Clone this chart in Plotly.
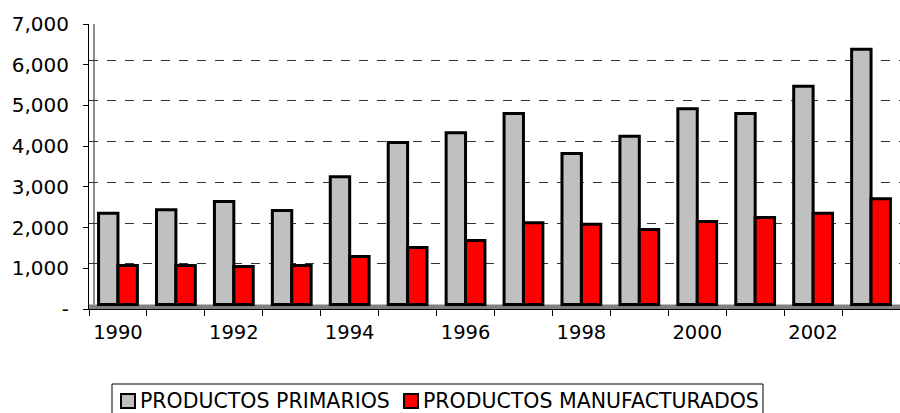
import plotly.graph_objects as go

years = list(range(1990, 2004))
primarios = [2240, 2330, 2530, 2310, 3140, 3980, 4220, 4690, 3710, 4130, 4810, 4690, 5360, 6270]
manufacturados = [960, 960, 935, 960, 1180, 1400, 1570, 2010, 1970, 1840, 2040, 2140, 2240, 2600]
y_tickvals = [0, 1000, 2000, 3000, 4000, 5000, 6000, 7000]
y_ticktext = ["-", "1,000", "2,000", "3,000", "4,000", "5,000", "6,000", "7,000"]
x_tickvals = [1990, 1992, 1994, 1996, 1998, 2000, 2002]
series_names = ["PRODUCTOS PRIMARIOS", "PRODUCTOS MANUFACTURADOS"]
series_colors = ["#c0c0c0", "#ff0000"]

FONT = "DejaVu Sans"
DEPTH = 110  # 3D back-wall offset in data units

# plot area geometry (pixels)
W, H = 900, 413
L, R, T, B = 89, 0, 24, 104
PW, PH = W - L - R, H - T - B


def px_x(px):
    return (px - L) / PW


def px_y(py):
    return (H - B - py) / PH


WALL_X = px_x(94)

fig = go.Figure()
for name, vals, col in zip(series_names, [primarios, manufacturados], series_colors):
    fig.add_trace(go.Bar(x=years, y=vals, name=name, yaxis="y2", showlegend=False,
                         marker=dict(color=col, line=dict(color="black", width=3))))

shapes = [
    dict(type="rect", xref="paper", yref="y", x0=0, x1=1, y0=0, y1=DEPTH,
         fillcolor="#808080", line=dict(width=0), layer="below"),
    dict(type="line", xref="paper", yref="y2", x0=WALL_X, x1=1, y0=7000, y1=7000,
         line=dict(color="#909090", width=2), layer="below"),
    dict(type="line", xref="paper", yref="y2", x0=WALL_X, x1=WALL_X, y0=0, y1=7000,
         line=dict(color="#909090", width=2), layer="below"),
    dict(type="line", xref="paper", yref="y", x0=0, x1=WALL_X, y0=7000, y1=7000 + DEPTH,
         line=dict(color="#909090", width=1), layer="below"),
    # legend box
    dict(type="rect", xref="paper", yref="paper", x0=px_x(112), x1=px_x(763),
         y0=px_y(384), y1=px_y(430), line=dict(color="black", width=1),
         fillcolor="white"),
]

annotations = []
legend_items = [(121, 140), (404, 423)]
for (sq_x, tx), name, col in zip(legend_items, series_names, series_colors):
    shapes.append(dict(type="rect", xref="paper", yref="paper",
                       x0=px_x(sq_x), x1=px_x(sq_x + 14), y0=px_y(394), y1=px_y(408),
                       fillcolor=col, line=dict(color="black", width=2)))
    annotations.append(dict(xref="paper", yref="paper", x=px_x(tx - 2), y=px_y(401),
                            xanchor="left", yanchor="middle", showarrow=False,
                            text=name, font=dict(family=FONT, size=20.5, color="black")))

fig.update_layout(
    width=W, height=H,
    margin=dict(l=L, r=R, t=T, b=B, autoexpand=False),
    paper_bgcolor="white", plot_bgcolor="white",
    font=dict(family=FONT, size=20, color="black"),
    barmode="group", bargap=0.33, bargroupgap=0,
    showlegend=False,
    xaxis=dict(range=[1989.5, 2003.5], tickvals=x_tickvals, automargin=False,
               ticktext=[str(v) for v in x_tickvals], ticks="",
               showline=True, linecolor="black", linewidth=1, showgrid=False,
               zeroline=False, tickfont=dict(size=19.5), ticklabelstandoff=6,
               minor=dict(tickvals=[y - 0.5 for y in years] + [2003.5], ticks="outside",
                          ticklen=6, tickcolor="black", showgrid=False)),
    yaxis=dict(range=[0, 7000], tickvals=y_tickvals, ticktext=y_ticktext, automargin=False,
               ticks="outside", ticklen=5, tickcolor="black", ticklabelstandoff=10,
               showline=True, linecolor="black", linewidth=1,
               showgrid=False, zeroline=False, tickfont=dict(size=20)),
    yaxis2=dict(range=[-DEPTH, 7000 - DEPTH], overlaying="y", side="left", automargin=False,
                tickvals=[1000, 2000, 3000, 4000, 5000, 6000], showticklabels=False,
                showgrid=True, gridcolor="#333333", griddash="dash", gridwidth=1,
                zeroline=False, showline=False, ticks=""),
    shapes=shapes,
    annotations=annotations,
)

fig.write_html("out.html", config={"displayModeBar": False},
               post_script="document.body.style.margin='0';document.body.style.overflow='hidden';")
